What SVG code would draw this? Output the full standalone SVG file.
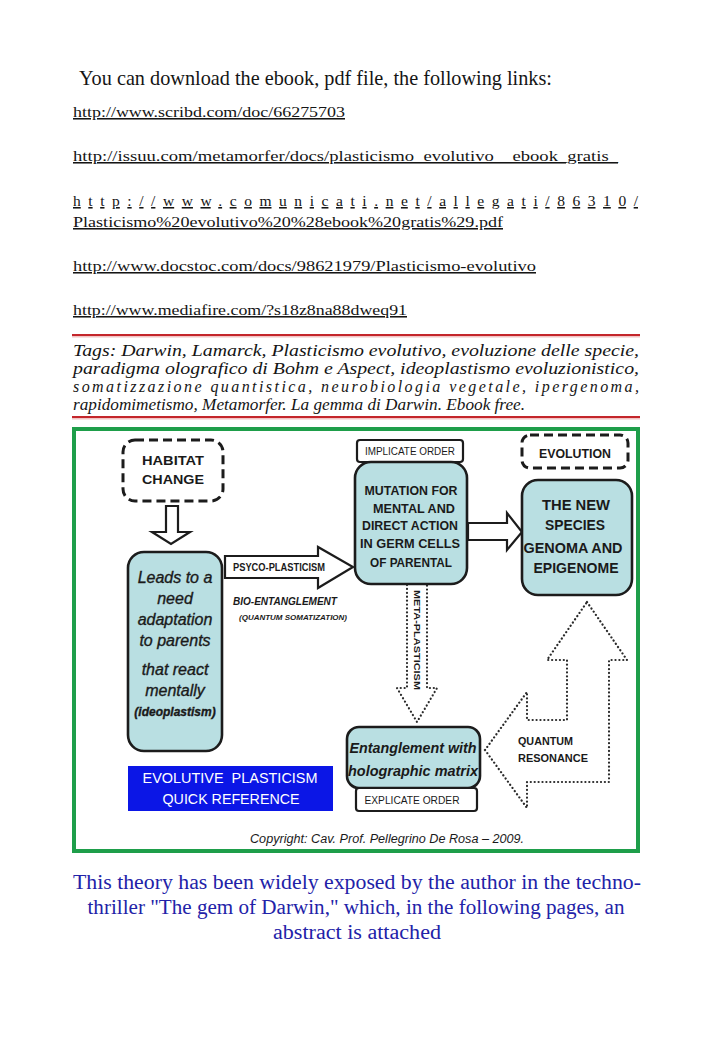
<svg xmlns="http://www.w3.org/2000/svg" width="728" height="1041" viewBox="0 0 728 1041">
<defs>
<style>
.serif{font-family:"Liberation Serif","Times New Roman",serif;fill:#151515}
.link{font-size:15.5px;text-decoration:underline}
.tag{font-size:16px;font-style:italic}
.sans{font-family:"Liberation Sans",Arial,sans-serif;fill:#1a1a1a}
.b{font-weight:bold}
.it{font-style:italic}
.box{fill:#b9dfe2;stroke:#1c1c1c;stroke-width:2.6}
.lbl{fill:#fff;stroke:#1c1c1c;stroke-width:2.2}
.dash{fill:none;stroke:#1c1c1c;stroke-width:3;stroke-dasharray:9 5}
.hollow{fill:#fff;stroke:#1c1c1c;stroke-width:2.2;stroke-linejoin:miter}
.dot{fill:none;stroke:#2a2a2a;stroke-width:2.2;stroke-dasharray:0.1 3.8;stroke-linecap:round}
.blue{font-family:"Liberation Serif","Times New Roman",serif;font-size:20px;fill:#2222a8}
.semi{stroke:#1a1a1a;stroke-width:0.35}
</style>
</defs>
<rect width="728" height="1041" fill="#fff"/>

<g id="header">
<text class="serif" x="79" y="85" font-size="21" textLength="473" lengthAdjust="spacingAndGlyphs">You can download the ebook, pdf file, the following links:</text>
<text class="serif link" x="73" y="117" textLength="272" lengthAdjust="spacingAndGlyphs">http://www.scribd.com/doc/66275703</text>
<text class="serif link" x="73" y="161" textLength="545" lengthAdjust="spacingAndGlyphs">http://issuu.com/metamorfer/docs/plasticismo_evolutivo__ebook_gratis_</text>
<text class="serif link" x="73" y="206" textLength="565" lengthAdjust="spacing">http://www.comunicati.net/allegati/86310/</text>
<text class="serif link" x="73" y="227" textLength="430" lengthAdjust="spacingAndGlyphs">Plasticismo%20evolutivo%20%28ebook%20gratis%29.pdf</text>
<text class="serif link" x="73" y="271" textLength="463" lengthAdjust="spacingAndGlyphs">http://www.docstoc.com/docs/98621979/Plasticismo-evolutivo</text>
<text class="serif link" x="73" y="315" textLength="334" lengthAdjust="spacingAndGlyphs">http://www.mediafire.com/?s18z8na88dweq91</text>
</g>

<g id="tags">
<line x1="72" y1="336.5" x2="640" y2="336.5" stroke="#f2c4c4" stroke-width="2"/>
<line x1="72" y1="335" x2="640" y2="335" stroke="#c4262b" stroke-width="2"/>
<text class="serif tag" x="73" y="356" textLength="566" lengthAdjust="spacingAndGlyphs">Tags: Darwin, Lamarck, Plasticismo evolutivo, evoluzione delle specie,</text>
<text class="serif tag" x="73" y="374" textLength="566" lengthAdjust="spacingAndGlyphs">paradigma olografico di Bohm e Aspect, ideoplastismo evoluzionistico,</text>
<text class="serif tag" x="73" y="392" textLength="566" lengthAdjust="spacing">somatizzazione quantistica, neurobiologia vegetale, ipergenoma,</text>
<text class="serif tag" x="73" y="410" textLength="452" lengthAdjust="spacingAndGlyphs">rapidomimetismo, Metamorfer. La gemma di Darwin. Ebook free.</text>
<line x1="72" y1="418.5" x2="640" y2="418.5" stroke="#f2c4c4" stroke-width="2"/>
<line x1="72" y1="417" x2="640" y2="417" stroke="#c4262b" stroke-width="2"/>
</g>

<g id="frame">
<rect x="74" y="429" width="564" height="422" fill="#fff" stroke="#1e9e4a" stroke-width="4"/>
</g>

<g id="connectors">
<path class="hollow" d="M166,506 L178,506 L178,532 L190,532 L171,544 L152,532 L166,532 Z"/>
<path class="hollow" d="M225,556 L318,556 L318,547 L353,567 L318,588 L318,578 L225,578 Z"/>
<text class="sans b" x="233" y="571" font-size="10" textLength="92" lengthAdjust="spacingAndGlyphs">PSYCO-PLASTICISM</text>
<text class="sans b it" x="233" y="605" font-size="10.5" textLength="104" lengthAdjust="spacingAndGlyphs">BIO-ENTANGLEMENT</text>
<text class="sans b it" x="239" y="620" font-size="7.5" textLength="108" lengthAdjust="spacingAndGlyphs">(QUANTUM SOMATIZATION)</text>
<path class="hollow" d="M468,523 L507,523 L507,513 L522,532 L507,550 L507,540 L468,540 Z"/>
<path class="dot" d="M407,585 L407,688 L397,688 L417,722 L437,688 L427,688 L427,585"/>
<text class="sans b" transform="translate(413.5,590) rotate(90)" font-size="9" textLength="100" lengthAdjust="spacingAndGlyphs">META-PLASTICISM</text>
<path class="dot" d="M587,602 L627,660 L609,660 L609,782 L527,782 L527,808 L485,750 L527,692 L527,720 L567,720 L567,660 L547,660 Z"/>
<text class="sans b" x="518" y="745" font-size="11.5" textLength="55" lengthAdjust="spacingAndGlyphs">QUANTUM</text>
<text class="sans b" x="518" y="762" font-size="11.5" textLength="70" lengthAdjust="spacingAndGlyphs">RESONANCE</text>
</g>

<g id="habitat">
<rect class="dash" x="123" y="440" width="100" height="61" rx="12"/>
<text class="sans b" x="173" y="465" font-size="13" text-anchor="middle" textLength="62" lengthAdjust="spacingAndGlyphs">HABITAT</text>
<text class="sans b" x="173" y="484" font-size="13" text-anchor="middle" textLength="62" lengthAdjust="spacingAndGlyphs">CHANGE</text>
</g>

<g id="leads">
<rect class="box" x="128" y="552" width="94" height="199" rx="16"/>
<g class="sans it semi" font-size="16" text-anchor="middle">
<text x="175" y="583">Leads to a</text>
<text x="175" y="604">need</text>
<text x="175" y="625">adaptation</text>
<text x="175" y="646">to parents</text>
<text x="175" y="675">that react</text>
<text x="175" y="696">mentally</text>
<text x="175" y="716" font-size="12" font-weight="bold">(ideoplastism)</text>
</g>
</g>

<g id="implicate">
<rect class="lbl" x="357" y="440" width="106" height="22" rx="3"/>
<text class="sans" x="410" y="455" font-size="10" text-anchor="middle" textLength="90" lengthAdjust="spacingAndGlyphs">IMPLICATE ORDER</text>
</g>

<g id="mutation">
<rect class="box" x="355" y="462" width="112" height="122" rx="16"/>
<g class="sans b" font-size="13" text-anchor="middle">
<text x="411" y="495" textLength="93" lengthAdjust="spacingAndGlyphs">MUTATION FOR</text>
<text x="414" y="513" textLength="82" lengthAdjust="spacingAndGlyphs">MENTAL AND</text>
<text x="410" y="530" textLength="96" lengthAdjust="spacingAndGlyphs">DIRECT ACTION</text>
<text x="410" y="548" textLength="100" lengthAdjust="spacingAndGlyphs">IN GERM CELLS</text>
<text x="411" y="567" textLength="82" lengthAdjust="spacingAndGlyphs">OF PARENTAL</text>
</g>
</g>

<g id="evolution">
<rect class="dash" x="522" y="435" width="106" height="33" rx="8"/>
<text class="sans b" x="575" y="458" font-size="13" text-anchor="middle" textLength="72" lengthAdjust="spacingAndGlyphs">EVOLUTION</text>
</g>

<g id="newspecies">
<rect class="box" x="522" y="480" width="110" height="115" rx="16"/>
<g class="sans b" font-size="14" text-anchor="middle">
<text x="576" y="510" textLength="68" lengthAdjust="spacingAndGlyphs">THE NEW</text>
<text x="575" y="530" textLength="60" lengthAdjust="spacingAndGlyphs">SPECIES</text>
<text x="573" y="553" textLength="99" lengthAdjust="spacingAndGlyphs">GENOMA AND</text>
<text x="576" y="573" textLength="85" lengthAdjust="spacingAndGlyphs">EPIGENOME</text>
</g>
</g>

<g id="entanglement">
<rect class="box" x="347" y="727" width="133" height="61" rx="12"/>
<text class="sans b it" x="413" y="753" font-size="15" text-anchor="middle" textLength="127" lengthAdjust="spacingAndGlyphs">Entanglement with</text>
<text class="sans b it" x="413" y="776" font-size="15" text-anchor="middle" textLength="130" lengthAdjust="spacingAndGlyphs">holographic matrix</text>
</g>

<g id="explicate">
<rect class="lbl" x="356" y="788" width="121" height="23" rx="3"/>
<text class="sans" x="412" y="804" font-size="10" text-anchor="middle" textLength="95" lengthAdjust="spacingAndGlyphs">EXPLICATE ORDER</text>
</g>

<g id="quickref">
<rect x="128" y="766" width="205" height="45" fill="#0b16e6"/>
<text x="230" y="783" font-family="Liberation Sans, Arial, sans-serif" font-size="15" fill="#fff" text-anchor="middle" textLength="175" lengthAdjust="spacingAndGlyphs" style="white-space:pre">EVOLUTIVE  PLASTICISM</text>
<text x="231" y="804" font-family="Liberation Sans, Arial, sans-serif" font-size="15" fill="#fff" text-anchor="middle" textLength="137" lengthAdjust="spacingAndGlyphs">QUICK REFERENCE</text>
</g>

<g id="copyright">
<text class="sans it" x="387" y="843" font-size="12" text-anchor="middle" textLength="274" lengthAdjust="spacingAndGlyphs">Copyright: Cav. Prof. Pellegrino De Rosa – 2009.</text>
</g>

<g id="footer">
<text class="blue" x="357" y="889" text-anchor="middle" textLength="568" lengthAdjust="spacingAndGlyphs">This theory has been widely exposed by the author in the techno-</text>
<text class="blue" x="356" y="914" text-anchor="middle" textLength="537" lengthAdjust="spacingAndGlyphs">thriller "The gem of Darwin," which, in the following pages, an</text>
<text class="blue" x="357" y="939" text-anchor="middle" textLength="168" lengthAdjust="spacingAndGlyphs">abstract is attached</text>
</g>
</svg>
